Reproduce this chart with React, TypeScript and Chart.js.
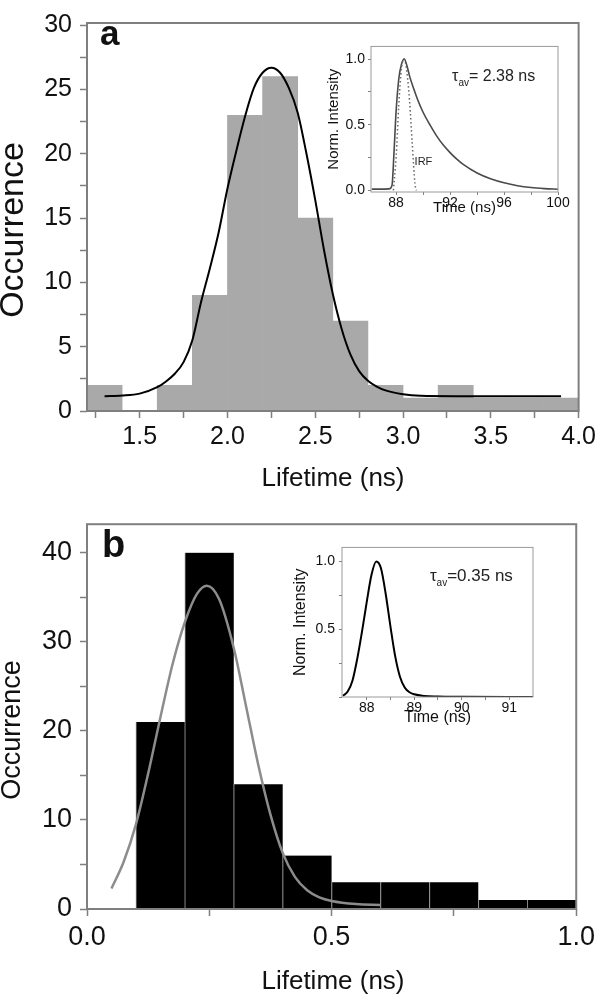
import React, { useEffect, useRef } from "react";
import { Chart, registerables } from "chart.js";

Chart.register(...registerables);

const FONT = "'Liberation Sans', Arial, Helvetica, sans-serif";
const AXIS_GRAY = "#7f7f7f";

// ---------------- Panel a : lifetime histogram (bin centres / counts) ----------------
const A_BIN_CENTERS = [1.3, 1.5, 1.7, 1.9, 2.1, 2.3, 2.5, 2.7, 2.9, 3.1, 3.3, 3.5, 3.7, 3.9];
const A_COUNTS = [2, 0, 2, 9, 23, 26, 15, 7, 2, 1, 2, 1, 1, 1];
// fitted curve
const A_FIT_X = [1.3, 1.4, 1.5, 1.6, 1.65, 1.7, 1.75, 1.8, 1.85, 1.9, 1.95, 2.0, 2.05, 2.1, 2.15, 2.2, 2.25, 2.3, 2.35, 2.4, 2.45, 2.5, 2.55, 2.6, 2.65, 2.7, 2.75, 2.8, 2.85, 2.9, 3.0, 3.1, 3.3, 3.9];
const A_FIT_Y = [1.15, 1.2, 1.35, 1.85, 2.3, 2.9, 3.8, 5.5, 8.5, 11.1, 13.9, 17.3, 20.2, 22.9, 25.1, 26.3, 26.7, 26.3, 25.1, 23.2, 20.0, 16.4, 12.5, 9.1, 6.4, 4.4, 3.1, 2.35, 1.9, 1.6, 1.3, 1.18, 1.15, 1.15];
const A_X_TICKS = [1.25, 1.5, 1.75, 2, 2.25, 2.5, 2.75, 3, 3.25, 3.5, 3.75, 4];
const A_X_MAJOR = [1.5, 2, 2.5, 3, 3.5, 4];
const A_X_LABELS = ["1.5", "2.0", "2.5", "3.0", "3.5", "4.0"];
const A_Y_TICKS = [0, 2.5, 5, 7.5, 10, 12.5, 15, 17.5, 20, 22.5, 25, 27.5, 30];
const A_Y_MAJOR = [0, 5, 10, 15, 20, 25, 30];
const A_Y_LABELS = ["0", "5", "10", "15", "20", "25", "30"];

// inset a : decay curve and IRF
const IA_DECAY_X = [86.2, 87.0, 87.5, 87.7, 87.85, 88.0, 88.2, 88.4, 88.6, 88.8, 89.0, 89.3, 89.6, 90.0, 90.5, 91.0, 91.5, 92.0, 92.5, 93.0, 94.0, 95.0, 96.0, 97.0, 98.0, 99.0, 100.0];
const IA_DECAY_Y = [0.01, 0.01, 0.012, 0.04, 0.3, 0.6, 0.85, 0.96, 1.0, 0.95, 0.87, 0.775, 0.69, 0.595, 0.5, 0.415, 0.345, 0.288, 0.238, 0.196, 0.133, 0.089, 0.058, 0.036, 0.022, 0.014, 0.009];
const IA_IRF_X = [87.8, 88.0, 88.2, 88.4, 88.6, 88.8, 89.0, 89.2, 89.4, 89.5];
const IA_IRF_Y = [0.0, 0.25, 0.65, 0.93, 1.0, 0.9, 0.68, 0.35, 0.05, 0.0];
const IA_X_TICKS = [88, 90, 92, 94, 96, 98, 100];
const IA_X_MAJOR = [88, 92, 96, 100];
const IA_X_LABELS = ["88", "92", "96", "100"];
const IA_Y_TICKS = [0, 0.25, 0.5, 0.75, 1];
const IA_Y_MAJOR = [0, 0.5, 1];
const IA_Y_LABELS = ["0.0", "0.5", "1.0"];

// ---------------- Panel b ----------------
const B_BIN_CENTERS = [0.05, 0.15, 0.25, 0.35, 0.45, 0.55, 0.65, 0.75, 0.85, 0.95];
const B_COUNTS = [0, 21, 40, 14, 6, 3, 3, 3, 1, 1];
const B_FIT_X = [0.05, 0.075, 0.1, 0.125, 0.15, 0.175, 0.2, 0.225, 0.245, 0.27, 0.3, 0.325, 0.35, 0.375, 0.4, 0.425, 0.45, 0.475, 0.5, 0.55, 0.6];
const B_FIT_Y = [2.3, 5.3, 9.5, 15.2, 21.5, 27.5, 32.2, 35.4, 36.3, 34.8, 29.3, 22.8, 16.2, 10.6, 6.3, 3.6, 2.1, 1.3, 0.9, 0.55, 0.45];
const B_X_TICKS = [0, 0.25, 0.5, 0.75, 1];
const B_X_MAJOR = [0, 0.5, 1];
const B_X_LABELS = ["0.0", "0.5", "1.0"];
const B_Y_TICKS = [0, 5, 10, 15, 20, 25, 30, 35, 40];
const B_Y_MAJOR = [0, 10, 20, 30, 40];
const B_Y_LABELS = ["0", "10", "20", "30", "40"];

// inset b : decay curve
const IB_X = [87.5, 87.6, 87.7, 87.8, 87.9, 88.0, 88.1, 88.2, 88.3, 88.4, 88.5, 88.6, 88.7, 88.8, 88.9, 89.0, 89.2, 89.5, 90.0, 91.0, 91.5];
const IB_Y = [0.01, 0.04, 0.12, 0.28, 0.48, 0.7, 0.9, 1.0, 0.95, 0.76, 0.52, 0.3, 0.15, 0.07, 0.035, 0.02, 0.008, 0.004, 0.002, 0.0, 0.0];
const IB_X_TICKS = [88, 88.5, 89, 89.5, 90, 90.5, 91];
const IB_X_MAJOR = [88, 89, 90, 91];
const IB_X_LABELS = ["88", "89", "90", "91"];
const IB_Y_TICKS = [0, 0.25, 0.5, 0.75, 1];
const IB_Y_MAJOR = [0.5, 1];
const IB_Y_LABELS = ["0.5", "1.0"];

type AxisSpec = {
  horizontal: boolean;
  min: number;
  max: number;
  ticks: number[];
  major: number[];
  labels: string[];
  fontSize: number;
  tickLength: number;
  tickWidth: number;
  padding: number;
  size: number;
  title?: { text: string; size: number; pad: number };
};

function buildScale(s: AxisSpec): any {
  return {
    type: "linear",
    position: s.horizontal ? "bottom" : "left",
    min: s.min,
    max: s.max,
    offset: false,
    afterBuildTicks: (scale: any) => {
      scale.ticks = s.ticks.map((value) => ({ value }));
    },
    afterFit: (scale: any) => {
      if (s.horizontal) scale.height = s.size;
      else scale.width = s.size;
    },
    ticks: {
      autoSkip: false,
      maxRotation: 0,
      minRotation: 0,
      padding: s.padding,
      color: "#111",
      font: { family: FONT, size: s.fontSize },
      callback: (v: number) => {
        const i = s.major.indexOf(v);
        return i >= 0 ? s.labels[i] : "";
      },
    },
    grid: {
      display: true,
      offset: false,
      drawOnChartArea: false,
      drawTicks: true,
      tickLength: s.tickLength,
      tickColor: AXIS_GRAY,
      tickWidth: s.tickWidth,
    },
    border: { display: false },
    title: s.title
      ? {
          display: true,
          text: s.title.text,
          color: "#111",
          font: { family: FONT, size: s.title.size, lineHeight: 1.2 },
          padding: s.horizontal ? { top: 0, bottom: s.title.pad } : { top: s.title.pad, bottom: 0 },
        }
      : { display: false },
  };
}

function framePlugin(color: string, width: number) {
  return {
    id: "frame",
    afterDraw(chart: any) {
      const { ctx, chartArea } = chart;
      const { left, top, right, bottom } = chartArea;
      ctx.save();
      ctx.strokeStyle = color;
      ctx.lineWidth = width;
      ctx.strokeRect(left, top, right - left, bottom - top);
      ctx.restore();
    },
  };
}

type TextItem = { text: string; x: number; y: number; size: number; bold?: boolean; rotate?: boolean; align?: string; baseline?: string };

function textPlugin(items: TextItem[]) {
  return {
    id: "texts",
    afterDraw(chart: any) {
      const { ctx } = chart;
      for (const t of items) {
        ctx.save();
        ctx.fillStyle = "#111";
        ctx.font = `${t.bold ? "bold " : ""}${t.size}px ${FONT}`;
        ctx.textAlign = t.align || "center";
        ctx.textBaseline = t.baseline || "middle";
        ctx.translate(t.x, t.y);
        if (t.rotate) ctx.rotate(-Math.PI / 2);
        ctx.fillText(t.text, 0, 0);
        ctx.restore();
      }
    },
  };
}

// text anchored at data coordinates (inset annotations)
function dataTextPlugin(xv: number, yv: number, size: number, parts: { text: string; sub?: boolean }[]) {
  return {
    id: "dataText",
    afterDraw(chart: any) {
      const { ctx, scales } = chart;
      let x = scales.x.getPixelForValue(xv);
      const y = scales.y.getPixelForValue(yv);
      ctx.save();
      ctx.fillStyle = "#222";
      ctx.textAlign = "left";
      ctx.textBaseline = "alphabetic";
      for (const p of parts) {
        const fs = p.sub ? Math.round(size * 0.6) : size;
        ctx.font = `${fs}px ${FONT}`;
        ctx.fillText(p.text, x, p.sub ? y + size * 0.28 : y);
        x += ctx.measureText(p.text).width;
      }
      ctx.restore();
    },
  };
}

const baseOptions = {
  responsive: false,
  maintainAspectRatio: false,
  animation: false,
  devicePixelRatio: 1,
  events: [],
  plugins: { legend: { display: false }, tooltip: { enabled: false } },
};

function xy(xs: number[], ys: number[]) {
  return xs.map((x, i) => ({ x, y: ys[i] }));
}

function configA(): any {
  return {
    type: "bar",
    data: {
      datasets: [
        {
          type: "line",
          data: xy(A_FIT_X, A_FIT_Y),
          borderColor: "#000",
          borderWidth: 2,
          pointRadius: 0,
          fill: false,
          cubicInterpolationMode: "monotone",
          order: 0,
        },
        {
          type: "bar",
          data: xy(A_BIN_CENTERS, A_COUNTS),
          backgroundColor: "#a9a9a9",
          borderWidth: 0,
          barPercentage: 1,
          categoryPercentage: 1,
          order: 1,
        },
      ],
    },
    options: {
      ...baseOptions,
      layout: { padding: { left: 0, top: 11, right: 21, bottom: 0 } },
      scales: {
        x: buildScale({ horizontal: true, min: 1.2, max: 4.0, ticks: A_X_TICKS, major: A_X_MAJOR, labels: A_X_LABELS, fontSize: 25, tickLength: 7, tickWidth: 1.5, padding: 4, size: 89 }),
        y: buildScale({ horizontal: false, min: 0, max: 30.17, ticks: A_Y_TICKS, major: A_Y_MAJOR, labels: A_Y_LABELS, fontSize: 25, tickLength: 7, tickWidth: 1.5, padding: 8, size: 87 }),
      },
    },
    plugins: [
      framePlugin(AXIS_GRAY, 2),
      textPlugin([
        { text: "Lifetime (ns)", x: 333, y: 479, size: 26 },
        { text: "Occurrence", x: 14, y: 230, size: 34, rotate: true },
        { text: "a", x: 100, y: 45, size: 35, bold: true, align: "left", baseline: "alphabetic" },
      ]),
    ],
  };
}

function configB(): any {
  return {
    type: "bar",
    data: {
      datasets: [
        {
          type: "line",
          data: xy(B_FIT_X, B_FIT_Y),
          borderColor: "#8c8c8c",
          borderWidth: 2.5,
          pointRadius: 0,
          fill: false,
          cubicInterpolationMode: "monotone",
          order: 0,
        },
        {
          type: "bar",
          data: xy(B_BIN_CENTERS, B_COUNTS),
          backgroundColor: "#000",
          borderColor: "#8a8a8a",
          borderWidth: { left: 1, right: 0, top: 0, bottom: 0 },
          borderSkipped: false,
          barPercentage: 1,
          categoryPercentage: 1,
          order: 1,
        },
      ],
    },
    options: {
      ...baseOptions,
      layout: { padding: { left: 0, top: 12, right: 21, bottom: 0 } },
      scales: {
        x: buildScale({ horizontal: true, min: 0, max: 1, ticks: B_X_TICKS, major: B_X_MAJOR, labels: B_X_LABELS, fontSize: 27, tickLength: 7, tickWidth: 1.5, padding: 5, size: 93 }),
        y: buildScale({ horizontal: false, min: 0, max: 43.2, ticks: B_Y_TICKS, major: B_Y_MAJOR, labels: B_Y_LABELS, fontSize: 27, tickLength: 7, tickWidth: 1.5, padding: 8, size: 87 }),
      },
    },
    plugins: [
      framePlugin(AXIS_GRAY, 2),
      textPlugin([
        { text: "Lifetime (ns)", x: 333, y: 482, size: 26 },
        { text: "Occurrence", x: 13, y: 230, size: 27, rotate: true },
        { text: "b", x: 102, y: 57, size: 38, bold: true, align: "left", baseline: "alphabetic" },
      ]),
    ],
  };
}

function configInsetA(): any {
  return {
    type: "line",
    data: {
      datasets: [
        {
          data: xy(IA_IRF_X, IA_IRF_Y),
          borderColor: "#666",
          borderWidth: 1.5,
          borderDash: [1.5, 2.5],
          pointRadius: 0,
          fill: false,
          cubicInterpolationMode: "monotone",
        },
        {
          data: xy(IA_DECAY_X, IA_DECAY_Y),
          borderColor: "#4a4a4a",
          borderWidth: 1.6,
          pointRadius: 0,
          fill: false,
          cubicInterpolationMode: "monotone",
        },
      ],
    },
    options: {
      ...baseOptions,
      layout: { padding: { left: 0, top: 6, right: 12, bottom: 0 } },
      scales: {
        x: buildScale({ horizontal: true, min: 86.14, max: 100, ticks: IA_X_TICKS, major: IA_X_MAJOR, labels: IA_X_LABELS, fontSize: 14, tickLength: 3, tickWidth: 1, padding: 0, size: 28, title: { text: "Time (ns)", size: 15, pad: 3 } }),
        y: buildScale({ horizontal: false, min: -0.012, max: 1.096, ticks: IA_Y_TICKS, major: IA_Y_MAJOR, labels: IA_Y_LABELS, fontSize: 14, tickLength: 3, tickWidth: 1, padding: 3, size: 46, title: { text: "Norm. Intensity", size: 15, pad: 0 } }),
      },
    },
    plugins: [
      framePlugin("#9a9a9a", 1),
      dataTextPlugin(92.15, 0.83, 16, [{ text: "τ" }, { text: "av", sub: true }, { text: "= 2.38 ns" }]),
      dataTextPlugin(89.37, 0.196, 11, [{ text: "IRF" }]),
    ],
  };
}

function configInsetB(): any {
  return {
    type: "line",
    data: {
      datasets: [
        {
          data: xy(IB_X, IB_Y),
          borderColor: "#000",
          borderWidth: 2,
          pointRadius: 0,
          fill: false,
          cubicInterpolationMode: "monotone",
        },
      ],
    },
    options: {
      ...baseOptions,
      layout: { padding: { left: 0, top: 8, right: 12, bottom: 0 } },
      scales: {
        x: buildScale({ horizontal: true, min: 87.48, max: 91.5, ticks: IB_X_TICKS, major: IB_X_MAJOR, labels: IB_X_LABELS, fontSize: 14, tickLength: 3, tickWidth: 1, padding: 0, size: 33, title: { text: "Time (ns)", size: 16, pad: 2.7 } }),
        y: buildScale({ horizontal: false, min: 0, max: 1.104, ticks: IB_Y_TICKS, major: IB_Y_MAJOR, labels: IB_Y_LABELS, fontSize: 14, tickLength: 3, tickWidth: 1, padding: 4, size: 57, title: { text: "Norm. Intensity", size: 16, pad: 6.4 } }),
      },
    },
    plugins: [
      framePlugin("#9a9a9a", 1),
      dataTextPlugin(89.33, 0.857, 17, [{ text: "τ" }, { text: "av", sub: true }, { text: "=0.35 ns" }]),
    ],
  };
}

function ChartCanvas(props: { make: () => any; left: number; top: number; width: number; height: number }) {
  const ref = useRef<HTMLCanvasElement | null>(null);
  useEffect(() => {
    if (!ref.current) return;
    const chart = new Chart(ref.current, props.make());
    return () => chart.destroy();
  }, []);
  return (
    <canvas
      ref={ref}
      width={props.width}
      height={props.height}
      style={{ position: "absolute", left: props.left, top: props.top, width: props.width, height: props.height }}
    />
  );
}

export default function App() {
  return (
    <div style={{ position: "absolute", left: 0, top: 0, width: 600, height: 1002, background: "#fff", overflow: "hidden" }}>
      <ChartCanvas make={configA} left={0} top={0} width={600} height={500} />
      <ChartCanvas make={configB} left={0} top={500} width={600} height={502} />
      <ChartCanvas make={configInsetA} left={325} top={35} width={245} height={185} />
      <ChartCanvas make={configInsetB} left={285} top={535} width={260} height={195} />
    </div>
  );
}
